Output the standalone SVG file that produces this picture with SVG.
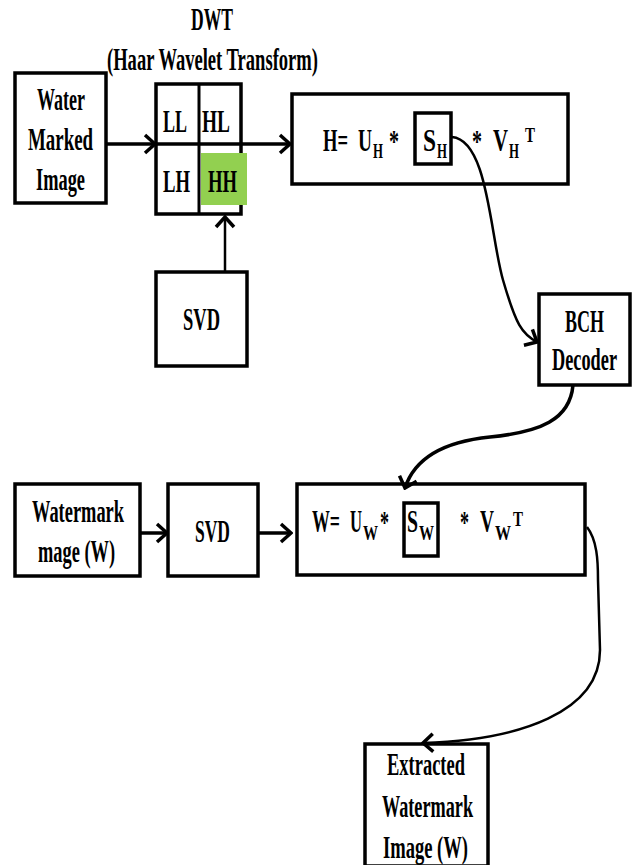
<svg xmlns="http://www.w3.org/2000/svg" width="634" height="865" viewBox="0 0 634 865">
<defs>
<style>
.box{fill:#fff;stroke:#000;stroke-width:3.5}
.t{font-weight:bold;font-size:32px;fill:#000}
.s{font-weight:bold;font-size:20px;fill:#000}
.c{fill:none;stroke:#000;stroke-width:3.5}
.thin{fill:none;stroke:#000;stroke-width:2.5}
</style>
<marker id="ah" viewBox="0 0 14 22" refX="12" refY="11" markerWidth="14" markerHeight="22" markerUnits="userSpaceOnUse" orient="auto">
<path d="M2,2 L12,11 L2,20" fill="none" stroke="#000" stroke-width="3.5"/>
</marker>
</defs>
<rect width="634" height="865" fill="#fff"/>
<g font-family="Liberation Serif, Times New Roman, DejaVu Serif, serif">

<g id="dwt-label">
<text class="t" x="191" y="30" textLength="42" lengthAdjust="spacingAndGlyphs">DWT</text>
<text class="t" x="107" y="70" textLength="211" lengthAdjust="spacingAndGlyphs">(Haar Wavelet Transform)</text>
</g>

<g id="watermarked-image">
<rect class="box" x="15" y="73" width="91" height="130"/>
<text class="t" x="37" y="110" textLength="48" lengthAdjust="spacingAndGlyphs">Water</text>
<text class="t" x="28" y="150" textLength="65" lengthAdjust="spacingAndGlyphs">Marked</text>
<text class="t" x="36" y="190" textLength="49" lengthAdjust="spacingAndGlyphs">Image</text>
</g>

<g id="dwt">
<rect class="box" x="156" y="84" width="85" height="130"/>
<rect x="201" y="153" width="46" height="52" fill="#92D050"/>
<line x1="199" y1="84" x2="199" y2="214" stroke="#000" stroke-width="3"/>
<line x1="156" y1="144" x2="241" y2="144" stroke="#000" stroke-width="3.5"/>
<text class="t" x="163" y="132" textLength="24" lengthAdjust="spacingAndGlyphs">LL</text>
<text class="t" x="202" y="132" textLength="28" lengthAdjust="spacingAndGlyphs">HL</text>
<text class="t" x="163" y="192" textLength="27" lengthAdjust="spacingAndGlyphs">LH</text>
<text class="t" x="208" y="192" textLength="29" lengthAdjust="spacingAndGlyphs">HH</text>
</g>

<g id="svd1">
<rect class="box" x="156" y="272" width="91" height="94"/>
<text class="t" x="183" y="330" textLength="37" lengthAdjust="spacingAndGlyphs">SVD</text>
</g>

<g id="h-eq">
<rect class="box" x="292" y="94" width="276" height="90"/>
<rect class="box" x="415" y="113" width="36" height="51"/>
<text class="t" x="323" y="151" textLength="25" lengthAdjust="spacingAndGlyphs">H=</text>
<text class="t" x="358" y="151" textLength="14" lengthAdjust="spacingAndGlyphs">U</text>
<text class="s" x="373" y="158" textLength="10" lengthAdjust="spacingAndGlyphs">H</text>
<text class="t" x="389" y="152" textLength="10" lengthAdjust="spacingAndGlyphs">*</text>
<text class="t" x="423" y="151" textLength="13" lengthAdjust="spacingAndGlyphs">S</text>
<text class="s" x="437" y="158" textLength="10" lengthAdjust="spacingAndGlyphs">H</text>
<text class="t" x="472" y="152" textLength="10" lengthAdjust="spacingAndGlyphs">*</text>
<text class="t" x="493" y="151" textLength="15" lengthAdjust="spacingAndGlyphs">V</text>
<text class="s" x="509" y="158" textLength="10" lengthAdjust="spacingAndGlyphs">H</text>
<text class="s" x="525" y="142" textLength="10" lengthAdjust="spacingAndGlyphs">T</text>
</g>

<g id="bch">
<rect class="box" x="539" y="294" width="91" height="91"/>
<text class="t" x="565" y="332" textLength="39" lengthAdjust="spacingAndGlyphs">BCH</text>
<text class="t" x="552" y="370" textLength="65" lengthAdjust="spacingAndGlyphs">Decoder</text>
</g>

<g id="watermark-image">
<rect class="box" x="15" y="484" width="125" height="92"/>
<text class="t" x="32" y="522" textLength="92" lengthAdjust="spacingAndGlyphs">Watermark</text>
<text class="t" x="38" y="562" textLength="77" lengthAdjust="spacingAndGlyphs">mage (W)</text>
</g>

<g id="svd2">
<rect class="box" x="168" y="484" width="90" height="92"/>
<text class="t" x="195" y="542" textLength="35" lengthAdjust="spacingAndGlyphs">SVD</text>
</g>

<g id="w-eq">
<rect class="box" x="297" y="484" width="288" height="91"/>
<rect class="box" x="404" y="503" width="34" height="53"/>
<text class="t" x="312" y="532" textLength="28" lengthAdjust="spacingAndGlyphs">W=</text>
<text class="t" x="350" y="532" textLength="12" lengthAdjust="spacingAndGlyphs">U</text>
<text class="s" x="363" y="540" textLength="15" lengthAdjust="spacingAndGlyphs">W</text>
<text class="t" x="380" y="533" textLength="9" lengthAdjust="spacingAndGlyphs">*</text>
<text class="t" x="407" y="532" textLength="11" lengthAdjust="spacingAndGlyphs">S</text>
<text class="s" x="419" y="540" textLength="15" lengthAdjust="spacingAndGlyphs">W</text>
<text class="t" x="460" y="533" textLength="9" lengthAdjust="spacingAndGlyphs">*</text>
<text class="t" x="480" y="532" textLength="14" lengthAdjust="spacingAndGlyphs">V</text>
<text class="s" x="495" y="540" textLength="16" lengthAdjust="spacingAndGlyphs">W</text>
<text class="s" x="513" y="526" textLength="10" lengthAdjust="spacingAndGlyphs">T</text>
</g>

<g id="extracted">
<rect class="box" x="365" y="744" width="123" height="122"/>
<text class="t" x="387" y="775" textLength="78" lengthAdjust="spacingAndGlyphs">Extracted</text>
<text class="t" x="382" y="817" textLength="91" lengthAdjust="spacingAndGlyphs">Watermark</text>
<text class="t" x="383" y="858" textLength="85" lengthAdjust="spacingAndGlyphs">Image (W)</text>
</g>
</g>

<g id="connectors">
<path class="c" d="M106,144 H155" marker-end="url(#ah)"/>
<path class="c" d="M241,144 H290" marker-end="url(#ah)"/>
<path class="thin" d="M225,272 V217" marker-end="url(#ah)"/>
<path class="thin" d="M452,137 C488,140 490,235 503,280 S522,334 537,342" marker-end="url(#ah)"/>
<path class="c" d="M573,385 C570,420 540,432 490,437 C440,442 414,460 405,488" marker-end="url(#ah)"/>
<path class="c" d="M140,533 H167" marker-end="url(#ah)"/>
<path class="c" d="M258,533 H291" marker-end="url(#ah)"/>
<path class="thin" d="M587,527 C597,540 598,560 598,580 L600,650 C600,712 520,740 423,743" marker-end="url(#ah)"/>
</g>
</svg>
